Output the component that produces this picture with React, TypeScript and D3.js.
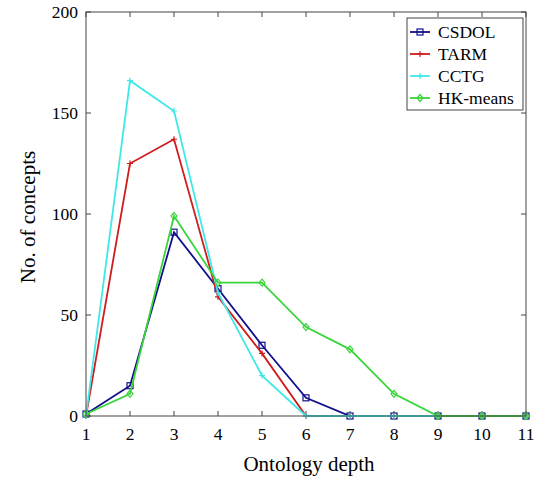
import React from "react";
import * as d3 from "d3";

const depths = [1, 2, 3, 4, 5, 6, 7, 8, 9, 10, 11];
const csdol = [1, 15, 91, 63, 35, 9, 0, 0, 0, 0, 0];
const tarm = [0, 125, 137, 59, 31, 0, 0, 0, 0, 0, 0];
const cctg = [0, 166, 151, 61, 20, 0, 0, 0, 0, 0, 0];
const hkmeans = [1, 11, 99, 66, 66, 44, 33, 11, 0, 0, 0];
const seriesNames = ["CSDOL", "TARM", "CCTG", "HK-means"];
const seriesColors = ["#10108c", "#d01c1c", "#40e8e8", "#3cd43c"];
const seriesMarkers = ["square", "plus", "plus", "diamond"];
const yTicks = [0, 50, 100, 150, 200];

export default function App() {
  const W = 535, H = 478;
  const L = 86, R = 526, T = 12, B = 416;
  const x = d3.scaleLinear().domain([1, 11]).range([L, R]);
  const y = d3.scaleLinear().domain([0, 200]).range([B, T]);
  const data = [csdol, tarm, cctg, hkmeans];
  const line = d3.line<number>().x((_, i) => x(depths[i])).y((v) => y(v));
  const font = "'Liberation Serif', 'DejaVu Serif', serif";

  const marker = (type: string, cx: number, cy: number, color: string, key: any) => {
    if (type === "square")
      return <rect key={key} x={cx - 3} y={cy - 3} width={6} height={6} fill="none" stroke={color} strokeWidth={1.2} />;
    if (type === "diamond")
      return <path key={key} d={`M${cx},${cy - 3.5}L${cx + 3},${cy}L${cx},${cy + 3.5}L${cx - 3},${cy}Z`} fill="none" stroke={color} strokeWidth={1.2} />;
    return <path key={key} d={`M${cx - 3},${cy}H${cx + 3}M${cx},${cy - 3}V${cy + 3}`} stroke={color} strokeWidth={1.2} />;
  };

  return (
    <svg width={W} height={H} style={{ position: "absolute", left: 0, top: 0, background: "#fff" }}>
      <rect x={0} y={0} width={W} height={H} fill="#fff" />
      {depths.map((d) => (
        <g key={"xt" + d}>
          <line x1={x(d)} x2={x(d)} y1={B} y2={B - 5} stroke="#444" />
          <line x1={x(d)} x2={x(d)} y1={T} y2={T + 5} stroke="#444" />
          <text x={x(d)} y={B + 24} textAnchor="middle" fontFamily={font} fontSize={17.5} fill="#000">{d}</text>
        </g>
      ))}
      {yTicks.map((t) => (
        <g key={"yt" + t}>
          <line x1={L} x2={L + 5} y1={y(t)} y2={y(t)} stroke="#444" />
          <line x1={R} x2={R - 5} y1={y(t)} y2={y(t)} stroke="#444" />
          <text x={L - 8} y={y(t) + 6} textAnchor="end" fontFamily={font} fontSize={17.5} fill="#000">{t}</text>
        </g>
      ))}
      {data.map((s, si) => (
        <g key={"s" + si}>
          <path d={line(s) || ""} fill="none" stroke={seriesColors[si]} strokeWidth={1.8} />
          {s.map((v, i) => marker(seriesMarkers[si], x(depths[i]), y(v), seriesColors[si], i))}
        </g>
      ))}
      <rect x={L} y={T} width={R - L} height={B - T} fill="none" stroke="#444" strokeWidth={1} />
      <rect x={407} y={18} width={116} height={92} fill="#fff" stroke="#444" strokeWidth={1} />
      {seriesNames.map((n, i) => {
        const ly = 32 + i * 22;
        return (
          <g key={"lg" + i}>
            <line x1={410} x2={430} y1={ly} y2={ly} stroke={seriesColors[i]} strokeWidth={1.8} />
            {marker(seriesMarkers[i], 420, ly, seriesColors[i], "m")}
            <text x={438} y={ly + 6} fontFamily={font} fontSize={17.5} fill="#000">{n}</text>
          </g>
        );
      })}
      <text x={(L + R) / 2 + 3} y={471} textAnchor="middle" fontFamily={font} fontSize={21} fill="#000">Ontology depth</text>
      <text transform={`translate(35,${(T + B) / 2 + 3}) rotate(-90)`} textAnchor="middle" fontFamily={font} fontSize={21} fill="#000">No. of concepts</text>
    </svg>
  );
}
